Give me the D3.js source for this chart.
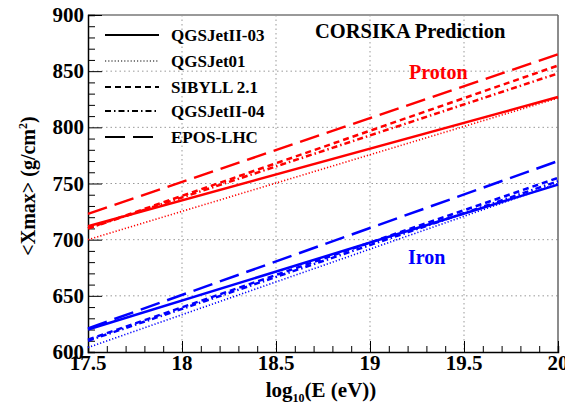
<!DOCTYPE html>
<html><head><meta charset="utf-8">
<script src="https://cdn.jsdelivr.net/npm/d3@7"></script>
<style>body{margin:0;background:#fff}svg{display:block}svg text{font-family:"Liberation Serif","DejaVu Serif",serif;font-weight:700}</style>
</head><body><svg id="c" width="565" height="405"></svg>
<script>
const energy = [17.5, 20];
const models = ["QGSJetII-03", "QGSJet01", "SIBYLL 2.1", "QGSJetII-04", "EPOS-LHC"];
const dashes = [null, "1.2 2", "6 4", "6 3 1.5 3", "20 8"];
const widths = [2.5, 1.6, 2.5, 2.5, 2.5];
const protonXmax = [[712, 827], [700, 826], [710, 855], [710, 848], [723, 865]];
const ironXmax = [[620, 749], [604, 750], [611, 755], [610, 752], [621, 770]];
const xTicks = [17.5, 18, 18.5, 19, 19.5, 20];
const yTicks = [600, 650, 700, 750, 800, 850, 900];

const svg = d3.select("#c");
const L = 88, R = 558, T = 15, B = 352;
const x = d3.scaleLinear().domain([17.5, 20]).range([L, R]);
const y = d3.scaleLinear().domain([600, 900]).range([B, T]);

// grid
const g = svg.append("g");
g.selectAll(".gx").data(xTicks.slice(1, -1)).join("line")
  .attr("x1", d => x(d)).attr("x2", d => x(d)).attr("y1", T).attr("y2", B)
  .attr("stroke", "#999").attr("stroke-dasharray", "1.5 3").attr("stroke-width", 1);
g.selectAll(".gy").data(yTicks.slice(1, -1)).join("line")
  .attr("y1", d => y(d)).attr("y2", d => y(d)).attr("x1", L).attr("x2", R)
  .attr("stroke", "#999").attr("stroke-dasharray", "1.5 3").attr("stroke-width", 1);

// frame top/right
svg.append("line").attr("x1", L).attr("x2", R).attr("y1", T).attr("y2", T).attr("stroke", "#999").attr("stroke-width", 2);
svg.append("line").attr("x1", R).attr("x2", R).attr("y1", T).attr("y2", B).attr("stroke", "#666").attr("stroke-width", 1.5);

// axes (ticks inside)
const xMinor = d3.range(17.5, 20.001, 0.1);
const yMinor = d3.range(600, 900.1, 10);
const xa = svg.append("g").attr("transform", `translate(0,${B})`);
xa.call(d3.axisTop(x).tickValues(xMinor).tickSize(6).tickFormat(""));
xa.call(g2 => g2.selectAll(".tick").filter(d => xTicks.some(t => Math.abs(t - d) < 1e-6)).select("line").attr("y2", -11));
xa.select(".domain").attr("stroke-width", 1.5);
const ya = svg.append("g").attr("transform", `translate(${L},0)`);
ya.call(d3.axisRight(y).tickValues(yMinor).tickSize(7).tickFormat(""));
ya.call(g2 => g2.selectAll(".tick").filter(d => yTicks.includes(Math.round(d)) && Math.abs(d - Math.round(d)) < 1e-6).select("line").attr("x2", 14));
ya.select(".domain").attr("stroke-width", 1.5);
svg.selectAll(".tick text").remove();

// tick labels
svg.append("g").selectAll("text").data(xTicks).join("text")
  .attr("x", d => x(d)).attr("y", 370).attr("text-anchor", "middle")
  .attr("font-size", 21).text(d => d);
svg.append("g").selectAll("text").data(yTicks).join("text")
  .attr("x", 84).attr("y", d => y(d) + 7).attr("text-anchor", "end")
  .attr("font-size", 21).text(d => d);

// axis titles
const xt = svg.append("text").attr("x", 321).attr("y", 397).attr("text-anchor", "middle").attr("font-size", 21);
xt.append("tspan").text("log");
xt.append("tspan").attr("font-size", 12).attr("dy", 5).text("10");
xt.append("tspan").attr("dy", -5).text("(E (eV))");
const yt = svg.append("text").attr("transform", "translate(35,186) rotate(-90)").attr("text-anchor", "middle").attr("font-size", 20);
yt.append("tspan").text("<Xmax> (g/cm");
yt.append("tspan").attr("font-size", 12).attr("dy", -8).text("2");
yt.append("tspan").attr("dy", 8).text(")");

// curves
const line = d3.line().x((d, i) => x(energy[i])).y(d => y(d));
const plot = svg.append("g");
function drawSet(data, color) {
  data.forEach((vals, k) => {
    plot.append("path").attr("d", line(vals)).attr("fill", "none")
      .attr("stroke", color).attr("stroke-width", widths[k])
      .attr("stroke-dasharray", dashes[k]);
  });
}
drawSet(protonXmax, "#ff0000");
drawSet(ironXmax, "#0000ff");

// legend
const lg = svg.append("g");
const rows = [35, 61, 87, 111, 137];
models.forEach((m, k) => {
  lg.append("line").attr("x1", 105).attr("x2", 159).attr("y1", rows[k]).attr("y2", rows[k])
    .attr("stroke", "#000").attr("stroke-width", k === 1 ? 1.2 : 2).attr("stroke-dasharray", dashes[k]);
  lg.append("text").attr("x", 171).attr("y", rows[k] + 6).attr("font-size", 17).text(m);
});

svg.append("text").attr("x", 315).attr("y", 38).attr("font-size", 20.5).text("CORSIKA Prediction");
svg.append("text").attr("x", 409).attr("y", 79).attr("font-size", 20).attr("fill", "#ff0000").text("Proton");
svg.append("text").attr("x", 408).attr("y", 264).attr("font-size", 20).attr("fill", "#0000ff").text("Iron");
</script></body></html>
